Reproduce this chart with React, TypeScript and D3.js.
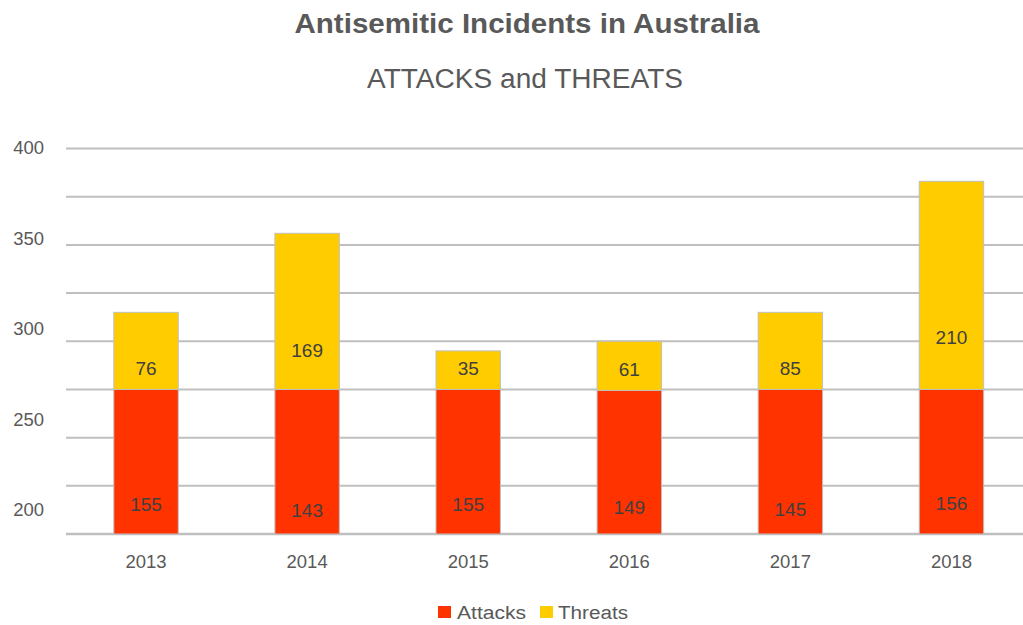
import React from 'react';
import * as d3 from 'd3';

const years = ['2013', '2014', '2015', '2016', '2017', '2018'];
const attacks = [155, 143, 155, 149, 145, 156];
const threats = [76, 169, 35, 61, 85, 210];
// bar extents as read against the drawn axis
const attacksPlotted = [275, 275, 275, 274.5, 275, 275];
const totalsPlotted = [315, 356, 295, 300, 315, 383];
const yTickLabels = [200, 250, 300, 350, 400];
const gridTicks = [200, 225, 250, 275, 300, 325, 350, 375, 400];

const W = 1023;
const H = 625;
const RED = '#FF3300';
const YELLOW = '#FFCC00';
const TXT = '#595959';
const LBL = '#404040';
const FONT = '"Liberation Sans", Arial, sans-serif';

export default function App() {
  const x = d3.scaleBand<string>().domain(years).range([65.5, 1032]).paddingInner(0.6).paddingOuter(0.3);
  const y = d3.scaleLinear().domain([200, 400]).range([534, 148.5]);
  const yLab = d3.scaleLinear().domain([200, 400]).range([510, 148]);
  const bw = x.bandwidth();

  return (
    <div style={{ position: 'absolute', left: 0, top: 0 }}>
      <svg width={W} height={H} style={{ display: 'block', background: '#fff' }} fontFamily={FONT}>
        <text x={527} y={33} textAnchor="middle" fontSize={28} fontWeight="bold" fill={TXT}
          textLength={465} lengthAdjust="spacingAndGlyphs">Antisemitic Incidents in Australia</text>
        <text x={525} y={88} textAnchor="middle" fontSize={27} fill={TXT}
          textLength={316} lengthAdjust="spacingAndGlyphs">ATTACKS and THREATS</text>

        {gridTicks.map((t) => (
          <line key={t} x1={66} x2={W} y1={y(t)} y2={y(t)} stroke="#BFBFBF" strokeWidth={t === 200 ? 2.5 : 2} />
        ))}

        {yTickLabels.map((t) => (
          <text key={t} x={44} y={yLab(t)} dy="0.35em" textAnchor="end" fontSize={18.5} fill={TXT}>{t}</text>
        ))}

        {years.map((yr, i) => {
          const x0 = x(yr)!;
          const cx = x0 + bw / 2;
          const aTop = y(attacksPlotted[i]);
          const tTop = y(totalsPlotted[i]);
          const base = y(200);
          const aH = base - aTop;
          const tH = aTop - tTop;
          const aLabelY = base - aH * 0.19 - (attacks[i] - 150) * 0.5;
          const tLabelY = aTop - Math.max(tH / 4, 21);
          return (
            <g key={yr}>
              <rect x={x0} y={aTop} width={bw} height={aH} fill={RED} stroke="#BFBFBF" strokeWidth={1} />
              <rect x={x0} y={tTop} width={bw} height={tH} fill={YELLOW} stroke="#BFBFBF" strokeWidth={1} />
              <text x={cx} y={aLabelY} dy="0.35em" textAnchor="middle" fontSize={19} fill={LBL}>{attacks[i]}</text>
              <text x={cx} y={tLabelY} dy="0.35em" textAnchor="middle" fontSize={19} fill={LBL}>{threats[i]}</text>
              <text x={cx} y={562} dy="0.35em" textAnchor="middle" fontSize={18.5} fill={TXT}>{yr}</text>
            </g>
          );
        })}

        <g>
          <rect x={438} y={606} width={13} height={12} fill={RED} />
          <text x={457} y={613} dy="0.35em" fontSize={18} fill={TXT} textLength={69} lengthAdjust="spacingAndGlyphs">Attacks</text>
          <rect x={540} y={606} width={13} height={12} fill={YELLOW} />
          <text x={558} y={613} dy="0.35em" fontSize={18} fill={TXT} textLength={70} lengthAdjust="spacingAndGlyphs">Threats</text>
        </g>
      </svg>
    </div>
  );
}
